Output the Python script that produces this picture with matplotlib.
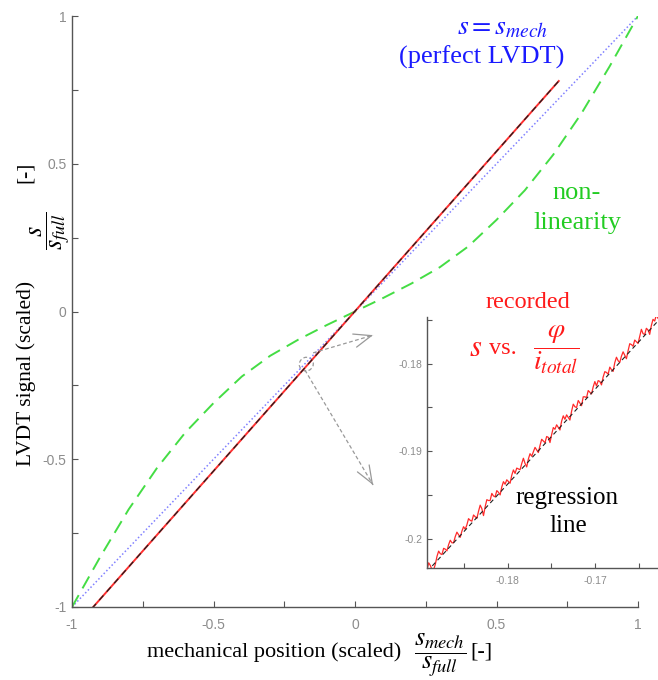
import numpy as np
import matplotlib
matplotlib.use("Agg")
import matplotlib.pyplot as plt
from matplotlib.patches import Ellipse

plt.rcParams["font.family"] = ["Liberation Serif", "DejaVu Serif"]
plt.rcParams["mathtext.fontset"] = "stix"
plt.rcParams["axes.unicode_minus"] = False

W, H = 658, 680

# ideal LVDT: s = s_mech
ideal_x = [-1.0, 1.0]
ideal_y = [-1.0, 1.0]

# non-linear sensor characteristic
nonlin_x = [-1.0, -0.9, -0.8, -0.7, -0.6, -0.5, -0.4, -0.3, -0.2, -0.1, 0.0,
            0.1, 0.2, 0.3, 0.4, 0.5, 0.6, 0.7, 0.8, 0.9, 1.0]
nonlin_y = [-1.0, -0.83, -0.67, -0.53, -0.41, -0.31, -0.22, -0.15, -0.095, -0.046, 0.0,
            0.046, 0.095, 0.15, 0.22, 0.31, 0.41, 0.53, 0.67, 0.83, 1.0]

# regression of recorded signal
reg_slope = 1.082
reg_icpt = 0.001
rec_x = [-0.93, 0.72]

# recorded signal in zoomed window, offset from regression line [1e-4]
zoom_x = [-0.1892, -0.1628]
rec_dev = [2, 8, 3, -4, -6, -2, 5, 9, 4, 1, 6, 3, -1, 4, 7, 2, 0, 5, 8, 3,
           -2, 3, 6, 1, 4, 9, 5, 2, 7, 3, -1, 5, 10, 4, -6, 2, 8, 5, 3, 9,
           4, 1, 6, 2, -3, 4, 8, 3, 6, 2, -2, 5, 9, 3, 7, 4, 1, 6, 10, 2,
           -4, 3, 7, 2, 5, 8, 3, -2, 4, 9, 5, 1, 6, 3, -5, 2, 8, 4, 7, 2,
           -3, 5, 9, 3, 6, 1, -4, 4, 10, 5, 2, 8, 3, -2, 6, 4, 1, 7, 3, -1,
           5, 9, 2, 6, 3, -3, 4, 8, 5, 1, 7, 2, -2, 6, 10, 4, 0, 5, 8, 2,
           -4, 3, 9, 6, 2, 7, 3, -1, 5, 11, 4, 1, 6, 2, -5, 3, 8, 4, 9, 3]

main_ticks = [-1, -0.75, -0.5, -0.25, 0, 0.25, 0.5, 0.75, 1]
main_labels = ["-1", "", "-0.5", "", "0", "", "0.5", "", "1"]
zx_ticks = [-0.185, -0.18, -0.175, -0.17, -0.165]
zx_labels = ["", "-0.18", "", "-0.17", ""]
zy_ticks = [-0.2, -0.195, -0.19, -0.185, -0.18, -0.175]
zy_labels = ["-0.2", "", "-0.19", "", "-0.18", ""]

SPINE = "#555555"
TICKC = "#8c8c8c"


def px(x, y):
    return x / W, 1 - y / H


def note(x, y, s, size, color="black", **kw):
    fig.text(*px(x, y), s, color=color, ha="center", va="center", fontsize=size, **kw)


def style_axes(ax, size, length):
    for s in ("top", "right"):
        ax.spines[s].set_visible(False)
    for s in ("left", "bottom"):
        ax.spines[s].set_color(SPINE)
        ax.spines[s].set_linewidth(1.0)
    ax.tick_params(direction="in", length=length, width=0.8, color=SPINE,
                   labelcolor=TICKC, labelsize=size, labelfontfamily="Liberation Sans")


fig = plt.figure(figsize=(W / 100, H / 100), dpi=100)
ax = fig.add_axes([72 / W, 73 / H, 566 / W, 591 / H])
ax.plot(ideal_x, ideal_y, color="#8080ff", lw=1.1, ls=(0, (1, 1.5)))
ax.plot(nonlin_x, nonlin_y, color="#44dd44", lw=1.4, dashes=(7, 4))
rx = np.array(rec_x)
ax.plot(rx, reg_slope * rx + reg_icpt, color="#ff3030", lw=1.4)
ax.plot(rx, reg_slope * rx + reg_icpt, color="#202020", lw=0.9, dashes=(5, 4))
ax.set_xlim(-1, 1)
ax.set_ylim(-1, 1)
ax.set_xticks(main_ticks, main_labels)
ax.set_yticks(main_ticks, main_labels)
style_axes(ax, 10, 4.5)
ax.tick_params(axis="x", pad=8)
ax.tick_params(axis="y", pad=4)

# zoom marker and arrows
ax.add_patch(Ellipse((-0.172, -0.178), 0.05, 0.046, angle=20, fill=False,
                     ec="#999999", lw=0.9, ls=(0, (3, 2))))
arrows = [((-0.148, -0.140), (0.064, -0.080)), ((-0.177, -0.198), (0.064, -0.587))]
for (x0, y0), (x1, y1) in arrows:
    ax.plot([x0, x1], [y0, y1], color="#999999", lw=0.9, ls=(0, (3, 2)))
    ax.annotate("", xy=(x1, y1), xytext=(x1 - 0.03 * (x1 - x0), y1 - 0.03 * (y1 - y0)),
                arrowprops=dict(arrowstyle="->,head_length=0.9,head_width=0.35",
                                color="#999999", lw=0.9, mutation_scale=14))

# zoomed inset
ins = fig.add_axes([427 / W, 112 / H, 231 / W, 251 / H])
zx = np.linspace(zoom_x[0], zoom_x[1], len(rec_dev))
ins.plot(zx, reg_slope * zx + reg_icpt + np.array(rec_dev) * 1e-4, color="#ff2a2a", lw=0.9)
zl = np.array(zoom_x)
ins.plot(zl, reg_slope * zl + reg_icpt, color="#202020", lw=0.8, dashes=(4, 3))
ins.set_xlim(zoom_x)
ins.set_ylim(-0.2033, -0.1747)
ins.set_xticks(zx_ticks, zx_labels)
ins.set_yticks(zy_ticks, zy_labels)
style_axes(ins, 7.5, 3.5)
ins.tick_params(axis="x", pad=6)

# axis labels (text, fraction and unit set separately)
fig.text(*px(401, 652), "mechanical position (scaled)", ha="right", va="center", fontsize=16)
note(440, 655, r"$\dfrac{s_{mech}}{s_{full}}$", 19)
note(481, 652, "[-]", 16)
fig.text(*px(26, 466), "LVDT signal (scaled)", ha="center", va="bottom", fontsize=15.5,
         rotation=90)
note(50, 231, r"$\dfrac{s}{s_{full}}$", 19, rotation=90)
note(25, 172, "[-]", 15.5, rotation=90)

# curve annotations
note(503, 28, r"$s = s_{mech}$", 20, color="#1a1aff")
note(482, 57, "(perfect LVDT)", 19, color="#1a1aff")
note(577, 193, "non-", 19, color="#22cc22")
note(577, 223, "linearity", 19, color="#22cc22")
note(528, 302, "recorded", 17.5, color="#ff1a1a")
note(476, 349, r"$s$", 22, color="#ff1a1a")
note(503, 349, "vs.", 17.5, color="#ff1a1a")
note(556, 350, r"$\dfrac{\varphi}{i_{total}}$", 20, color="#ff1a1a")
note(567, 498, "regression", 18, color="black")
note(568, 526, "line", 18, color="black")

fig.savefig("out.png", dpi=100)
